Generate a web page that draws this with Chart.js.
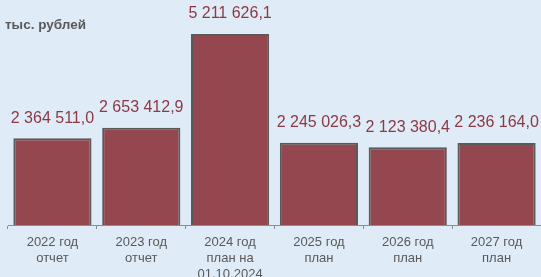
<!DOCTYPE html>
<html><head><meta charset="utf-8">
<script src="https://cdn.jsdelivr.net/npm/chart.js@4.4.0/dist/chart.umd.min.js"></script>
<style>
html,body{margin:0;padding:0;background:#DFEBF7;}
#wrap{width:541px;height:277px;position:relative;}
</style></head>
<body><div id="wrap"><canvas id="c" width="541" height="277"></canvas></div>
<script>
const categories = [["2022 год","отчет"],["2023 год","отчет"],["2024 год","план на","01.10.2024"],["2025 год","план"],["2026 год","план"],["2027 год","план"]];
const values = [2364511.0, 2653412.9, 5211626.1, 2245026.3, 2123380.4, 2236164.0];
const valueLabels = ["2 364 511,0","2 653 412,9","5 211 626,1","2 245 026,3","2 123 380,4","2 236 164,0"];
const unitLabel = "тыс. рублей";

const labelPlugin = {
  id:'vals',
  afterDatasetsDraw(chart){
    const ctx = chart.ctx;
    const meta = chart.getDatasetMeta(0);
    ctx.save();
    ctx.font = '16px "Liberation Sans", Arial, sans-serif';
    ctx.fillStyle = '#8B3A44';
    ctx.textAlign = 'center';
    ctx.textBaseline = 'middle';
    meta.data.forEach((bar,i)=>{
      ctx.fillText(valueLabels[i], bar.x, bar.y - 20);
    });
    ctx.font = 'bold 13.5px "Liberation Sans", Arial, sans-serif';
    ctx.fillStyle = '#595959';
    ctx.textAlign = 'left';
    ctx.fillText(unitLabel, 5, 25);
    ctx.restore();
  }
};

new Chart(document.getElementById('c'), {
  type:'bar',
  data:{labels:categories, datasets:[{data:values, backgroundColor:'#94474E', borderColor:'#5A5A5A', borderWidth:2, borderSkipped:'start', barPercentage:0.88, categoryPercentage:1}]},
  options:{
    responsive:false, animation:false,
    layout:{padding:{top:5,left:8,right:0,bottom:0}},
    plugins:{legend:{display:false}, tooltip:{enabled:false}},
    scales:{
      y:{display:false, min:0, max:6000000},
      x:{
        grid:{display:true, drawOnChartArea:false, drawTicks:true, tickLength:4, color:'#8C8C8C', lineWidth:1},
        border:{display:true, color:'#8C8C8C', width:1},
        ticks:{color:'#595959', font:{family:'"Liberation Sans", Arial, sans-serif', size:13, lineHeight:1.2}, padding:6, maxRotation:0, autoSkip:false},
        afterFit(s){ s.height = 52; }
      }
    }
  },
  plugins:[labelPlugin]
});
</script></body></html>
